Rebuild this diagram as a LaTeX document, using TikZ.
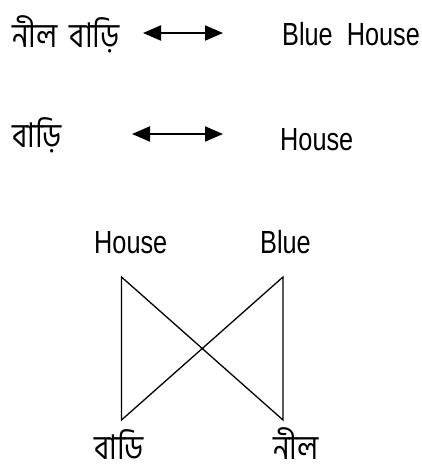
\documentclass[tikz,border=0pt]{standalone}
\usepackage{fontspec}
\setmainfont{Liberation Sans}[FakeStretch=0.79]
\newfontfamily\bn[Script=Bengali,FakeStretch=0.86]{Hind Siliguri}
\usetikzlibrary{arrows.meta}
\begin{document}
\begin{tikzpicture}[x=1pt,y=-1pt,
  lat/.style={inner sep=0pt,anchor=base west,font=\fontsize{32}{36}\selectfont},
  ben/.style={inner sep=0pt,anchor=base west,font=\bn\fontsize{34}{38}\selectfont},
  dblarrow/.style={line width=2pt,{Triangle[length=18pt,width=15pt]}-{Triangle[length=18pt,width=15pt]}},
  bow/.style={line width=1.3pt,line join=miter}]
\useasboundingbox (0,0) rectangle (422,468);
% row 1
\node[ben] (b1) at (12,48) {নীল\, বাড়ি};
\node[lat] (e1) at (282,46) {Blue\ \ House};
\coordinate (a1l) at (143,33);
\coordinate (a1r) at (223,33);
\draw[dblarrow] (a1l) -- (a1r);
% row 2
\node[ben] (b2) at (12,147) {বাড়ি};
\node[lat] (e2) at (280,150) {House};
\coordinate (a2l) at (132,134);
\coordinate (a2r) at (223,134);
\draw[dblarrow] (a2l) -- (a2r);
% bow tie
\node[lat] (hs) at (94,253) {House};
\node[lat] (bl) at (260,253) {Blue};
\coordinate (tl) at (121.5,277);
\coordinate (tr) at (283,277);
\coordinate (dl) at (121.5,420);
\coordinate (dr) at (283,420);
\draw[bow] (tl) -- (dl) -- (tr) -- (dr) -- cycle;
\node[ben] (bari) at (94,459) {বাডি};
\node[ben] (nil) at (273,459) {নীল};
\end{tikzpicture}
\end{document}
